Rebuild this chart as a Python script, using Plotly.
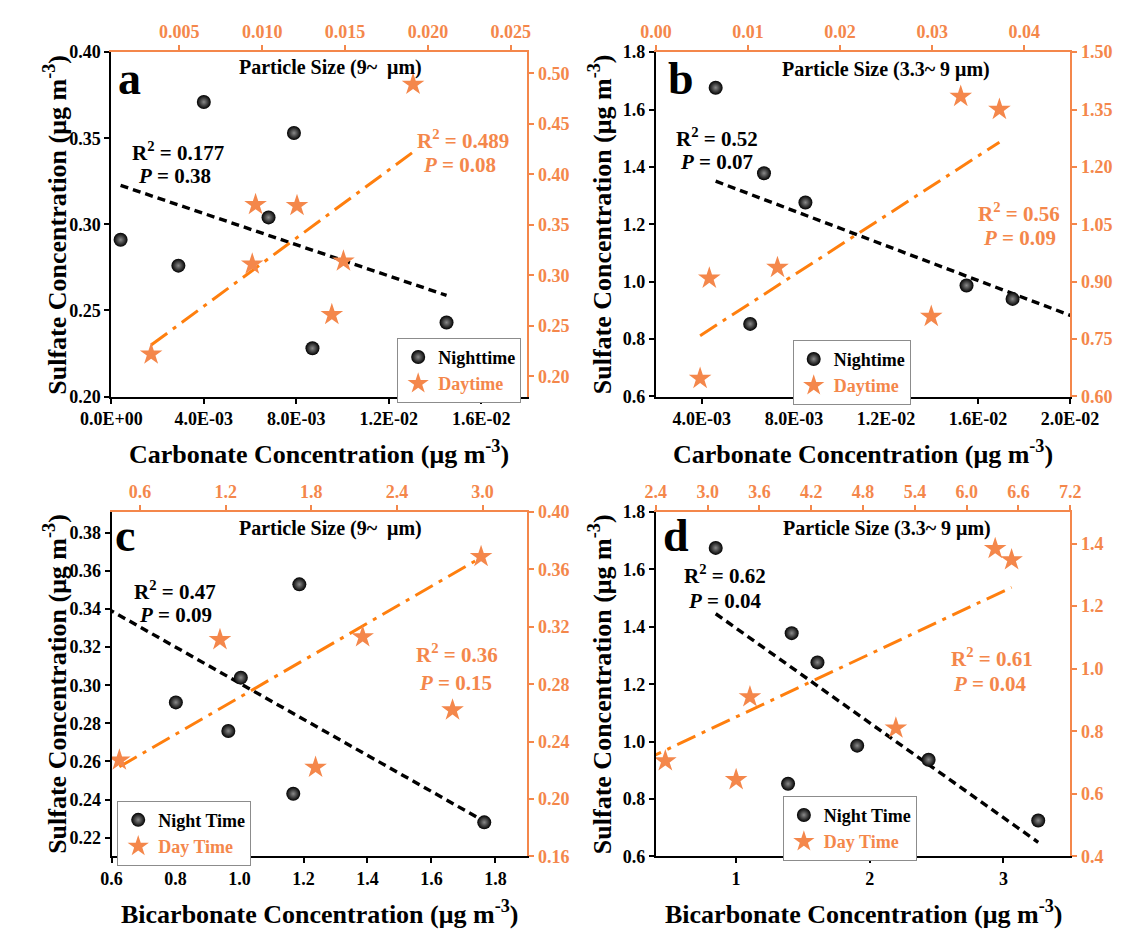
import numpy as np
import plotly.graph_objects as go

# ---------------- data ----------------
# Panel a: sulfate vs carbonate, particle size 9~ um
a_night_x = [0.0004, 0.0029, 0.0040, 0.0068, 0.0079, 0.0087, 0.0145]
a_night_y = [0.291, 0.276, 0.371, 0.304, 0.353, 0.228, 0.243]
a_day_x = [0.0033, 0.0094, 0.0096, 0.0121, 0.0142, 0.0149, 0.0191]
a_day_y = [0.222, 0.311, 0.370, 0.369, 0.261, 0.314, 0.489]

# Panel b: sulfate vs carbonate, particle size 3.3~9 um
b_night_x = [0.0046, 0.0061, 0.0067, 0.0085, 0.0155, 0.0175, 0.0265]
b_night_y = [1.676, 0.853, 1.378, 1.276, 0.987, 0.940, 0.727]
b_day_x = [0.0048, 0.0058, 0.0132, 0.0299, 0.0331, 0.0373]
b_day_y = [0.647, 0.909, 0.937, 0.809, 1.384, 1.350]

# Panel c: sulfate vs bicarbonate, particle size 9~ um
c_night_x = [0.55, 0.801, 0.965, 1.004, 1.168, 1.187, 1.765]
c_night_y = [0.371, 0.291, 0.276, 0.304, 0.243, 0.353, 0.228]
c_day_x = [0.455, 1.16, 1.83, 2.16, 2.79, 2.85, 2.99]
c_day_y = [0.227, 0.311, 0.222, 0.313, 0.262, 0.489, 0.369]

# Panel d: sulfate vs bicarbonate, particle size 3.3~9 um
d_night_x = [0.848, 1.389, 1.416, 1.609, 1.906, 2.44, 3.26]
d_night_y = [1.675, 0.853, 1.378, 1.276, 0.986, 0.937, 0.725]
d_day_x = [2.25, 2.51, 3.33, 3.49, 5.18, 6.33, 6.52]
d_day_y = [0.937, 0.705, 0.645, 0.910, 0.810, 1.384, 1.348]

panel_letters = ["a", "b", "c", "d"]
size_labels = ["Particle Size (9~  μm)", "Particle Size (3.3~ 9 μm)",
               "Particle Size (9~  μm)", "Particle Size (3.3~ 9 μm)"]
night_names = ["Nighttime", "Nightime", "Night Time", "Night Time"]
day_names = ["Daytime", "Daytime", "Day Time", "Day Time"]
night_stats = [("0.177", "0.38"), ("0.52", "0.07"), ("0.47", "0.09"), ("0.62", "0.04")]
day_stats = [("0.489", "0.08"), ("0.56", "0.09"), ("0.36", "0.15"), ("0.61", "0.04")]
x_titles = ["Carbonate Concentration", "Carbonate Concentration",
            "Bicarbonate Concentration", "Bicarbonate Concentration"]

a_bottom_ticks = [0.0, 0.004, 0.008, 0.012, 0.016]
a_bottom_text = ["0.0E+00", "4.0E-03", "8.0E-03", "1.2E-02", "1.6E-02"]
b_bottom_ticks = [0.004, 0.008, 0.012, 0.016, 0.020]
b_bottom_text = ["4.0E-03", "8.0E-03", "1.2E-02", "1.6E-02", "2.0E-02"]

# ---------------- style ----------------
W, H = 1141, 932
FONT = "Liberation Serif"
ORANGE = "#F4874B"
LINE_ORANGE = "#FF7F0E"
BLACK = "#000000"
TICK_SIZE = 18


def fx(px):
    return px / W


def fy(py):
    return 1 - py / H


# panel pixel boxes: left, right, top, bottom
boxes = [(84.8, 524.0, 43, 395), (659.5, 1097.0, 43, 395),
         (85.0, 524.0, 513, 865), (659.5, 1097.0, 513, 865)]

axis_cfg = [
    dict(xb=dict(range=[0, 0.018], tickvals=a_bottom_ticks, ticktext=a_bottom_text),
         yl=dict(range=[0.19999, 0.40001], dtick=0.05, tickformat=".2f"),
         xt=dict(range=[0.0009, 0.026], dtick=0.005, tick0=0, tickformat=".3f"),
         yr=dict(range=[0.18, 0.521], dtick=0.05, tick0=0, tickformat=".2f")),
    dict(xb=dict(range=[0.002, 0.02001], tickvals=b_bottom_ticks, ticktext=b_bottom_text),
         yl=dict(range=[0.5999, 1.8001], dtick=0.2, tick0=0, tickformat=".1f"),
         xt=dict(range=[-0.00001, 0.045], dtick=0.01, tick0=0, tickformat=".2f"),
         yr=dict(range=[0.5999, 1.5001], dtick=0.15, tick0=0, tickformat=".2f")),
    dict(xb=dict(range=[0.5999, 1.9], dtick=0.2, tick0=0, tickformat=".1f"),
         yl=dict(range=[0.2101, 0.391], dtick=0.02, tick0=0, tickformat=".2f"),
         xt=dict(range=[0.4, 3.315], dtick=0.6, tick0=0, tickformat=".1f"),
         yr=dict(range=[0.1599, 0.4001], dtick=0.04, tick0=0, tickformat=".2f")),
    dict(xb=dict(range=[0.4, 3.5], dtick=1, tick0=0, tickformat="d"),
         yl=dict(range=[0.5999, 1.8001], dtick=0.2, tick0=0, tickformat=".1f"),
         xt=dict(range=[2.3999, 7.2001], dtick=0.6, tick0=0, tickformat=".1f"),
         yr=dict(range=[0.3999, 1.501], dtick=0.2, tick0=0, tickformat=".1f")),
]

data_sets = [
    (a_night_x, a_night_y, a_day_x, a_day_y),
    (b_night_x, b_night_y, b_day_x, b_day_y),
    (c_night_x, c_night_y, c_day_x, c_day_y),
    (d_night_x, d_night_y, d_day_x, d_day_y),
]

legend_pos = [(386.5, 335), (804, 337), (91, 808), (793.6, 803)]

# text positions (pixel centers)
letter_pos = [(104, 70), (686, 70), (99.5, 537), (680.5, 537)]
size_pos = [(316, 59), (902, 61), (316, 530), (903, 530)]
night_txt_pos = [((155, 145), (151, 170)), ((724, 130), (724, 155)),
                 ((152, 593), (152, 618)), ((733, 577), (733, 604))]
day_txt_pos = [((456, 132), (452, 158)), ((1043, 207), (1043, 233)),
               ((450, 658), (448, 688)), ((1014, 662), (1012, 689))]

fig = go.Figure()
layout = dict(width=W, height=H, margin=dict(l=0, r=0, t=0, b=0), autosize=False,
              paper_bgcolor="white", plot_bgcolor="white", showlegend=True,
              font=dict(family=FONT, size=17, color=BLACK))
annotations = []


def axname(kind, n):
    return kind + "axis" + ("" if n == 1 else str(n))


def ref(kind, n):
    return kind + ("" if n == 1 else str(n))


def base_axis(color, tickfont_color):
    return dict(showline=True, linecolor=color, linewidth=2, ticks="outside", ticklen=5,
                tickwidth=2, tickcolor=color, showgrid=False, zeroline=False, mirror=False,
                tickfont=dict(family=FONT, size=TICK_SIZE, color=tickfont_color, weight="bold"))


def add_text(txt, pos, size, color, **kw):
    d = dict(text=txt, x=fx(pos[0]), y=fy(pos[1]), xref="paper", yref="paper",
             showarrow=False, xanchor="center", yanchor="middle",
             font=dict(family=FONT, size=size, color=color, weight="bold"))
    d.update(kw)
    annotations.append(d)


for i in range(4):
    p, s = 2 * i + 1, 2 * i + 2
    l, r, t, b = boxes[i]
    dx = [fx(l), fx(r)]
    dy = [fy(b), fy(t)]
    cfg = axis_cfg[i]

    xb = base_axis(BLACK, BLACK)
    xb.update(cfg["xb"], domain=dx, anchor=ref("y", p), side="bottom")
    yl = base_axis(BLACK, BLACK)
    yl.update(cfg["yl"], domain=dy, anchor=ref("x", p), side="left")
    xt = base_axis(ORANGE, ORANGE)
    xt.update(cfg["xt"], domain=dx, overlaying=ref("x", p), anchor=ref("y", s), side="top")
    yr = base_axis(ORANGE, ORANGE)
    yr.update(cfg["yr"], domain=dy, overlaying=ref("y", p), anchor=ref("x", s), side="right")
    layout[axname("x", p)] = xb
    layout[axname("y", p)] = yl
    layout[axname("x", s)] = xt
    layout[axname("y", s)] = yr

    nx, ny, dxs, dys = data_sets[i]
    leg = "legend" if i == 0 else "legend%d" % (i + 1)

    # trend lines (least-squares fits of the series)
    k1, b1 = np.polyfit(nx, ny, 1)
    lx = np.array([min(nx), max(nx)])
    fig.add_trace(go.Scatter(x=lx, y=k1 * lx + b1, mode="lines", showlegend=False,
                             line=dict(color=BLACK, width=3.4, dash="8px,5px"),
                             xaxis=ref("x", p), yaxis=ref("y", p), hoverinfo="skip"))
    k2, b2 = np.polyfit(dxs, dys, 1)
    lx2 = np.array([min(dxs), max(dxs)])
    fig.add_trace(go.Scatter(x=lx2, y=k2 * lx2 + b2, mode="lines", showlegend=False,
                             line=dict(color=LINE_ORANGE, width=3, dash="20px,7px,4px,7px"),
                             xaxis=ref("x", s), yaxis=ref("y", s), hoverinfo="skip"))

    fig.add_trace(go.Scatter(x=nx, y=ny, mode="markers", name=night_names[i], legend=leg,
                             marker=dict(symbol="circle", size=14, color=BLACK,
                                         gradient=dict(type="radial", color="#8a8a8a"),
                                         line=dict(width=0)),
                             xaxis=ref("x", p), yaxis=ref("y", p)))
    fig.add_trace(go.Scatter(x=dxs, y=dys, mode="markers",
                             name='<span style="color:%s">%s</span>' % (ORANGE, day_names[i]),
                             legend=leg,
                             marker=dict(symbol="star", size=17, color=ORANGE, line=dict(width=0)),
                             xaxis=ref("x", s), yaxis=ref("y", s)))

    lpx, lpy = legend_pos[i]
    layout[leg] = dict(x=fx(lpx), y=fy(lpy), xanchor="left", yanchor="top",
                       bgcolor="white", bordercolor="#8c8c8c", borderwidth=1,
                       font=dict(family=FONT, size=18, color=BLACK, weight="bold"),
                       itemwidth=30, tracegroupgap=0)

    add_text(panel_letters[i], letter_pos[i], 46, BLACK)
    add_text(size_labels[i], size_pos[i], 20, BLACK)
    add_text("R<sup>2</sup> = %s" % night_stats[i][0], night_txt_pos[i][0], 21, BLACK)
    add_text("<i>P</i> = %s" % night_stats[i][1], night_txt_pos[i][1], 21, BLACK)
    add_text("R<sup>2</sup> = %s" % day_stats[i][0], day_txt_pos[i][0], 21, ORANGE)
    add_text("<i>P</i> = %s" % day_stats[i][1], day_txt_pos[i][1], 21, ORANGE)

    # axis titles
    add_text("%s (μg m<sup>-3</sup>)" % x_titles[i], ((l + r) / 2, b + 57), 26, BLACK)
    add_text("Sulfate Concentration (μg m<sup>-3</sup>)", (l - 59, (t + b) / 2), 26, BLACK,
             textangle=-90)

layout["annotations"] = annotations
fig.update_layout(**layout)
fig.write_html("out.html")
